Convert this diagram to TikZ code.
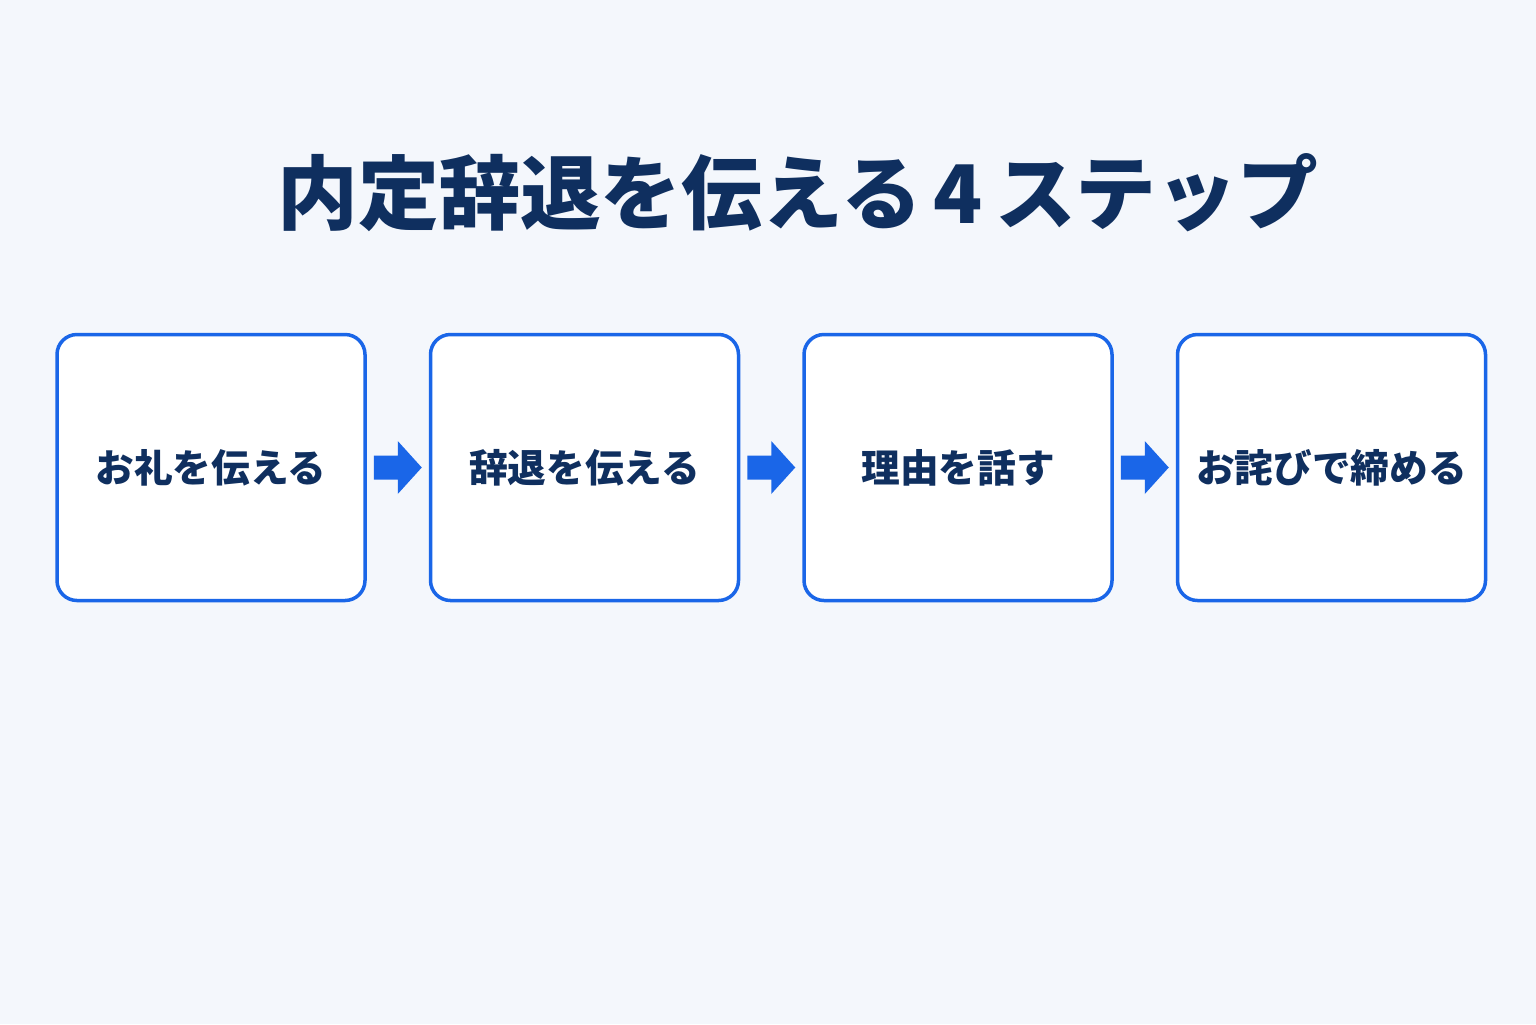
\documentclass[tikz,border=0pt]{standalone}
\usepackage{fontspec}
\newfontfamily\jp{Noto Sans CJK JP}
\usepackage{xcolor}
\usetikzlibrary{positioning,calc}
\definecolor{bgc}{HTML}{F4F7FC}
\definecolor{stepblue}{HTML}{1A66E8}
\definecolor{navy}{HTML}{0F2F5F}
\tikzset{stepbox/.style={draw=stepblue,line width=0.035cm,fill=white,rounded corners=0.2cm,
	minimum width=3.08cm,minimum height=2.66cm,text=navy,font=\jp\bfseries\fontsize{11}{13}\selectfont},
	flow/.style={fill=stepblue},
	title/.style={text=navy,font=\jp\bfseries\fontsize{23}{27}\selectfont}}

\begin{document}
\begin{tikzpicture}
\fill[bgc] (0,0) rectangle (15.36,-10.24);
\node [title] (t) at (7.98,-1.93) {内定辞退を伝える\hspace{0.12cm}4\hspace{0.12cm}ステップ};
\node [stepbox] (b1) at (2.11,-4.675) {お礼を伝える};
\node [stepbox,right=0.62cm of b1] (b2) {辞退を伝える};
\node [stepbox,right=0.62cm of b2] (b3) {理由を話す};
\node [stepbox,right=0.62cm of b3] (b4) {お詫びで締める};
\foreach \i/\j in {1/2,2/3,3/4}
  \fill[flow] ($(b\i.east)!0.5!(b\j.west)$) ++(-0.24,0.12) -- ++(0.24,0) -- ++(0,0.145)
    -- ++(0.24,-0.265) -- ++(-0.24,-0.265) -- ++(0,0.145) -- ++(-0.24,0) -- cycle;
\end{tikzpicture}
\end{document}
